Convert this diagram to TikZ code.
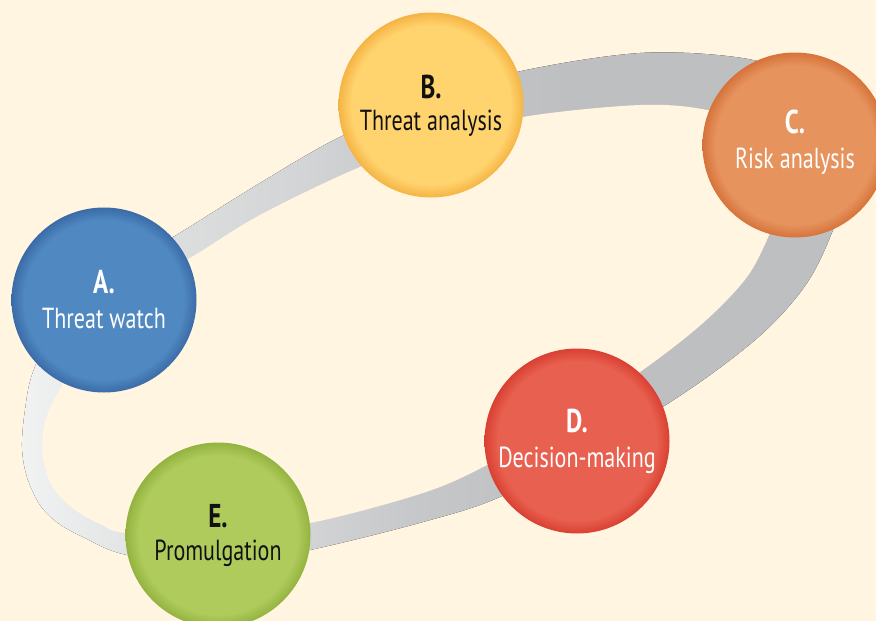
\documentclass[tikz,border=0pt]{standalone}
\usepackage{fontspec}
\setmainfont{PT Sans}[FakeStretch=0.76]
\usetikzlibrary{calc}
\definecolor{bg}{HTML}{FFF5E0}
\definecolor{r0}{HTML}{F1F2F2}
\definecolor{r1}{HTML}{E4E5E6}
\definecolor{r2}{HTML}{DDDFDF}
\definecolor{r3}{HTML}{D3D4D5}
\definecolor{r4}{HTML}{C6C7C9}
\definecolor{r5}{HTML}{BEBFC1}
\definecolor{Amain}{HTML}{5089C1}
\definecolor{Arim}{HTML}{3A6BA8}
\definecolor{Bmain}{HTML}{FFD36E}
\definecolor{Brim}{HTML}{F5B443}
\definecolor{Cmain}{HTML}{E6935E}
\definecolor{Crim}{HTML}{D6733A}
\definecolor{Dmain}{HTML}{E8604F}
\definecolor{Drim}{HTML}{D94033}
\definecolor{Emain}{HTML}{AECB5B}
\definecolor{Erim}{HTML}{93B33F}
\definecolor{txtdark}{HTML}{111111}
\pgfdeclarehorizontalshading{ringshade}{100bp}{color(0bp)=(r0); color(25bp)=(r0); color(31bp)=(r1); color(34bp)=(r2); color(42bp)=(r3); color(49bp)=(r4); color(58bp)=(r5); color(100bp)=(r5)}
\pgfdeclareradialshading{ballA}{\pgfpoint{0bp}{0bp}}{color(0bp)=(Amain); color(21.5bp)=(Amain); color(25bp)=(Arim); color(50bp)=(Arim)}
\pgfdeclareradialshading{ballB}{\pgfpoint{0bp}{0bp}}{color(0bp)=(Bmain); color(21.5bp)=(Bmain); color(25bp)=(Brim); color(50bp)=(Brim)}
\pgfdeclareradialshading{ballC}{\pgfpoint{0bp}{0bp}}{color(0bp)=(Cmain); color(21.5bp)=(Cmain); color(25bp)=(Crim); color(50bp)=(Crim)}
\pgfdeclareradialshading{ballD}{\pgfpoint{0bp}{0bp}}{color(0bp)=(Dmain); color(21.5bp)=(Dmain); color(25bp)=(Drim); color(50bp)=(Drim)}
\pgfdeclareradialshading{ballE}{\pgfpoint{0bp}{0bp}}{color(0bp)=(Emain); color(21.5bp)=(Emain); color(25bp)=(Erim); color(50bp)=(Erim)}
\tikzset{
  ball/.style={circle, minimum size=185pt, inner sep=0pt, outer sep=0pt},
  lett/.style={anchor=base, inner sep=0pt, font=\fontsize{33}{33}\selectfont\bfseries},
  lab/.style={anchor=base, inner sep=0pt, font=\fontsize{29}{29}\selectfont},
}
\begin{document}
\begin{tikzpicture}[x=1pt,y=-1pt]
\useasboundingbox (0,0) rectangle (876,621);
\fill[bg] (0,0) rectangle (876,621);
\clip (0,0) rectangle (876,621);
% ring
\fill[shading=ringshade] plot[smooth cycle, tension=0.55] coordinates {
 (33,372) (60,315) (110,272) (173,237) (260,183) (340,137) (430,100) (517,72)
 (640,53) (742,58) (800,78) (840,120) (848,180) (833,230) (807,283) (763,333)
 (693,387) (600,445) (500,497) (423,522) (310,550) (220,565) (127,555) (83,537)
 (58,523) (40,505) (27,477) (22,447) (25,410)};
\fill[bg] plot[smooth cycle, tension=0.55] coordinates {
 (62,385) (85,335) (130,290) (190,258) (260,215) (360,167) (440,140) (523,117)
 (640,105) (707,110) (755,128) (780,170) (780,205) (770,233) (747,277) (703,323)
 (640,372) (565,420) (487,465) (423,493) (310,523) (220,532) (127,533) (100,524)
 (78,512) (62,499) (50,482) (43,457) (43,432) (49,410)};
% circles
\node[ball, shading=ballA] (A) at (104,300) {};
\node[ball, shading=ballB] (B) at (431,105) {};
\node[ball, shading=ballC] (C) at (795,145) {};
\node[ball, shading=ballD] (D) at (577,441) {};
\node[ball, shading=ballE] (E) at (218,535) {};
% labels
\node[lett, white] (Al) at ($(A)+(0,-7)$) {A.};
\node[lab, white] (At) at ($(A)+(0,28)$) {Threat watch};
\node[lett, txtdark] (Bl) at ($(B)+(0,-7)$) {B.};
\node[lab, txtdark] (Bt) at ($(B)+(0,25)$) {Threat analysis};
\node[lett, white] (Cl) at ($(C)+(0,-12)$) {C.};
\node[lab, white] (Ct) at ($(C)+(0,23)$) {Risk analysis};
\node[lett, white] (Dl) at ($(D)+(0,-9)$) {D.};
\node[lab, white] (Dt) at ($(D)+(0,26)$) {Decision-making};
\node[lett, txtdark] (El) at ($(E)+(0,-8)$) {E.};
\node[lab, txtdark] (Et) at ($(E)+(0,25)$) {Promulgation};
\end{tikzpicture}
\end{document}
